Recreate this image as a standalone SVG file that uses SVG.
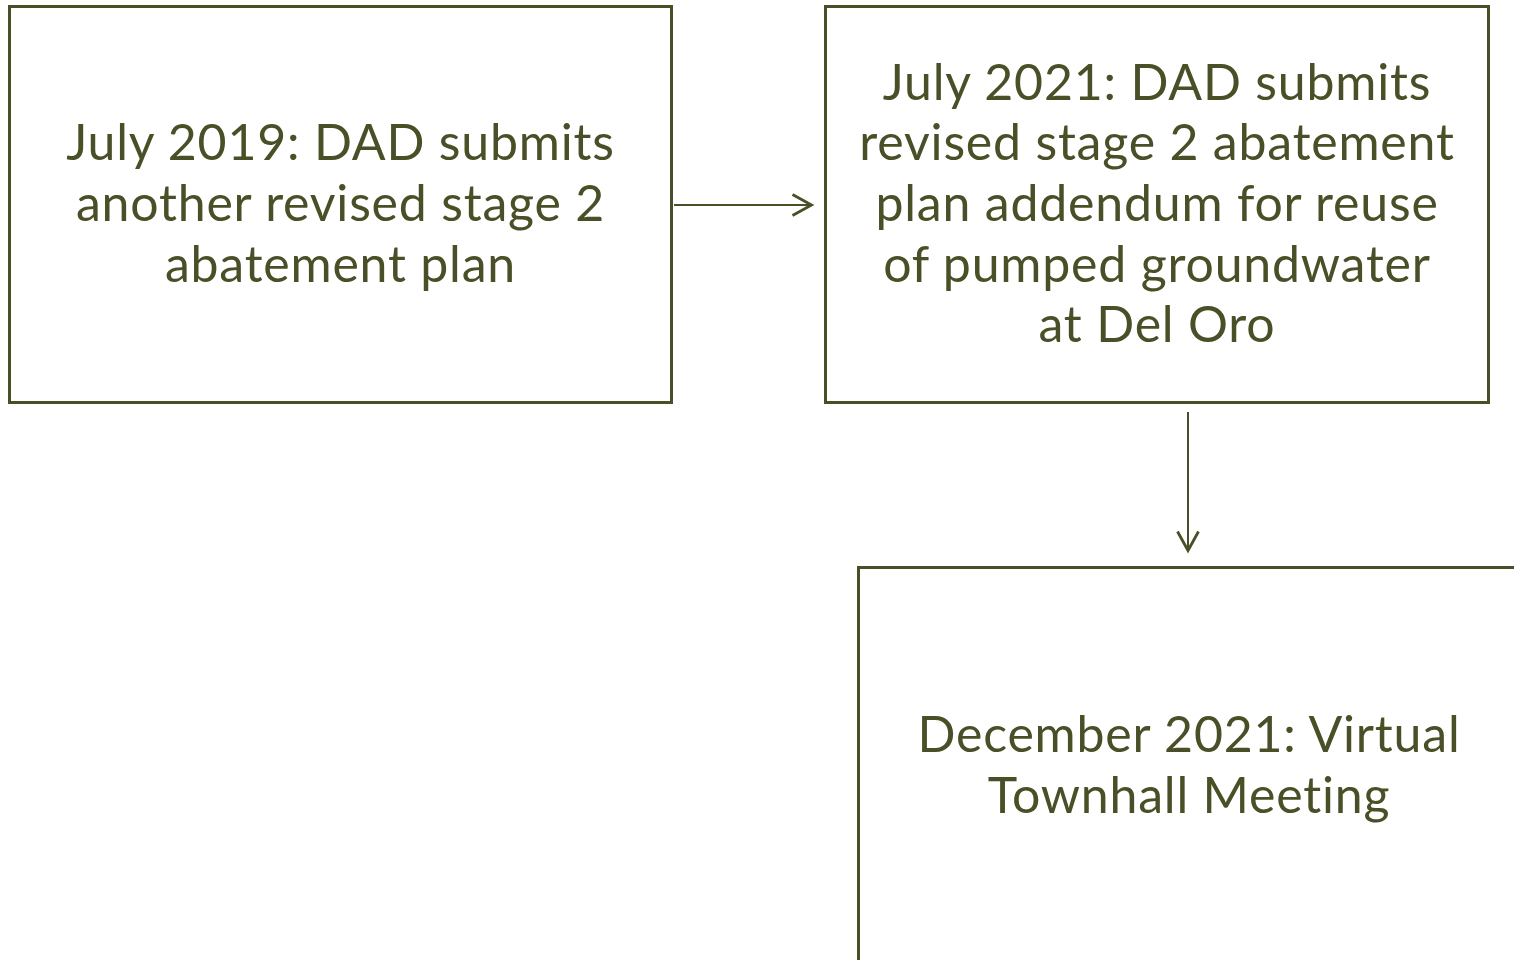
<svg xmlns="http://www.w3.org/2000/svg" width="1514" height="960" viewBox="0 0 1514 960">
<style>
.box{fill:#fff;stroke:#4b4f27;stroke-width:3}
.t{font-family:Lato,"Liberation Sans",sans-serif;font-size:50px;letter-spacing:0.8px;fill:#4b4f27;text-anchor:middle}
.c{stroke:#4b4f27;stroke-width:2;fill:none}
</style>
<defs>
<marker id="ah" viewBox="0 0 24 24" refX="21.5" refY="12" markerWidth="24" markerHeight="24" markerUnits="userSpaceOnUse" orient="auto">
<path d="M2,1.5 L21,12 L2,22.5" fill="none" stroke="#4b4f27" stroke-width="2.8"/>
</marker>
</defs>
<rect width="1514" height="960" fill="#fff"/>
<g id="node1">
<rect class="box" x="9.5" y="6.5" width="662" height="396"/>
<text class="t" x="340.5" y="160">July 2019: DAD submits</text>
<text class="t" x="340.5" y="221">another revised stage 2</text>
<text class="t" x="340.5" y="282">abatement plan</text>
</g>
<g id="node2">
<rect class="box" x="825.5" y="6.5" width="663" height="396"/>
<text class="t" x="1157" y="100">July 2021: DAD submits</text>
<text class="t" x="1157" y="160">revised stage 2 abatement</text>
<text class="t" x="1157" y="221">plan addendum for reuse</text>
<text class="t" x="1157" y="282">of pumped groundwater</text>
<text class="t" x="1157" y="342">at Del Oro</text>
</g>
<g id="node3">
<rect class="box" x="858.5" y="567.5" width="700" height="420"/>
<text class="t" x="1189" y="752">December 2021: Virtual</text>
<text class="t" x="1189" y="813">Townhall Meeting</text>
</g>
<g id="connectors">
<line class="c" x1="674" y1="205" x2="812" y2="205" marker-end="url(#ah)"/>
<line class="c" x1="1188" y1="412" x2="1188" y2="551" marker-end="url(#ah)"/>
</g>
</svg>
